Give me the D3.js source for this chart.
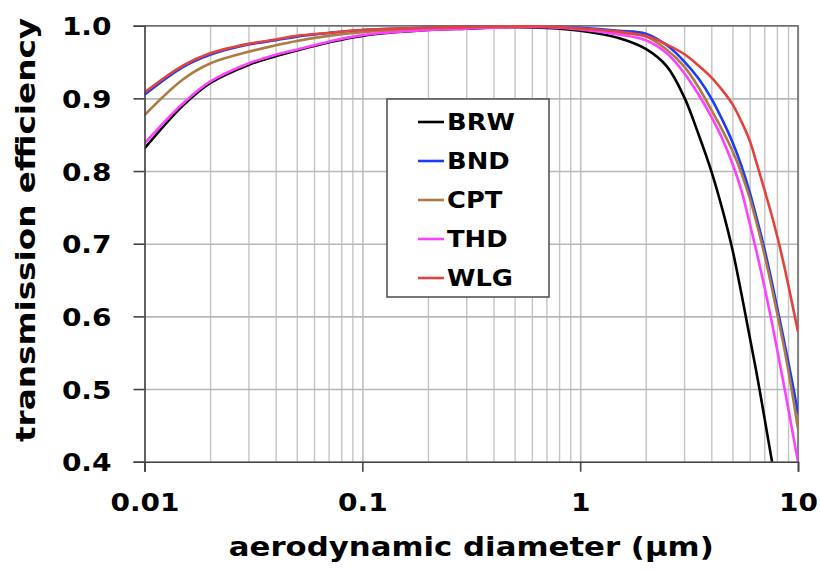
<!DOCTYPE html>
<html>
<head>
<meta charset="utf-8">
<script src="https://cdn.jsdelivr.net/npm/d3@7/dist/d3.min.js"></script>
<style>
  body { margin: 0; background: #fff; }
  text { font-family: "DejaVu Sans", Verdana, sans-serif; font-weight: bold; fill: #000; }
</style>
</head>
<body>
<div id="canvas"></div>
<script>
/* DATA */
const diameters = [0.01, 0.015, 0.02, 0.03, 0.04, 0.05, 0.07, 0.1, 0.2, 0.3, 0.5, 0.7,
                   1, 1.5, 2, 2.5, 3, 3.5, 4, 4.5, 5, 5.5, 6, 6.5, 7, 7.5, 8, 8.5, 9, 9.5, 10];

const brw = [0.831, 0.890, 0.921, 0.946, 0.958, 0.966, 0.977, 0.986, 0.994, 0.996, 0.998, 0.997,
             0.993, 0.983, 0.968, 0.944, 0.902, 0.850, 0.800, 0.747, 0.692, 0.631, 0.572, 0.517, 0.462, 0.410, 0.361,
             null, null, null, null];
const bnd = [0.905, 0.943, 0.960, 0.974, 0.980, 0.985, 0.990, 0.994, 0.997, 0.998, 0.999, 0.999,
             0.997, 0.993, 0.989, 0.973, 0.951, 0.927, 0.900, 0.870, 0.840, 0.807, 0.771, 0.732, 0.694, 0.654, 0.614,
             0.576, 0.539, 0.503, 0.466];
const cpt = [0.877, 0.926, 0.948, 0.964, 0.973, 0.979, 0.986, 0.991, 0.996, 0.998, 0.999, 0.999,
             0.996, 0.990, 0.985, 0.967, 0.944, 0.915, 0.884, 0.856, 0.828, 0.797, 0.763, 0.725, 0.686, 0.646, 0.606,
             0.567, 0.528, 0.487, 0.445];
const thd = [0.838, 0.893, 0.923, 0.948, 0.960, 0.967, 0.978, 0.987, 0.994, 0.996, 0.998, 0.998,
             0.995, 0.988, 0.980, 0.962, 0.935, 0.905, 0.875, 0.844, 0.810, 0.773, 0.728, 0.685, 0.642, 0.599, 0.556,
             0.515, 0.475, 0.436, 0.400];
const wlg = [0.908, 0.945, 0.962, 0.975, 0.981, 0.986, 0.990, 0.994, 0.997, 0.998, 0.999, 0.999,
             0.996, 0.992, 0.986, 0.974, 0.961, 0.945, 0.929, 0.911, 0.892, 0.868, 0.842, 0.808, 0.775, 0.744, 0.712,
             0.679, 0.645, 0.611, 0.579];

const stations = ["BRW", "BND", "CPT", "THD", "WLG"];
const stationValues = [brw, bnd, cpt, thd, wlg];
const stationColors = ["#000000", "#1a3cff", "#b07a45", "#ff40ff", "#e2433c"];

const xTicks = [0.01, 0.1, 1, 10];
const yTicks = [0.4, 0.5, 0.6, 0.7, 0.8, 0.9, 1.0];


/* CREATE THE SVG CANVAS */
const width = 820;
const height = 570;
const margin = { top: 25.7, right: 22, bottom: 108.3, left: 144.5 };
const stretch = 1.12;

const svg = d3.select("#canvas")
    .append("svg")
    .attr("width", width)
    .attr("height", height);

const x = d3.scaleLog()
    .domain([0.01, 10])
    .range([margin.left, width - margin.right]);

const y = d3.scaleLinear()
    .domain([0.4, 1.0])
    .range([height - margin.bottom, margin.top]);

function widen(sel, factor) {
    sel.each(function() {
        const len = this.getComputedTextLength();
        d3.select(this).attr("textLength", len * (factor || stretch)).attr("lengthAdjust", "spacingAndGlyphs");
    });
}


/* GRID LINES */
const minorX = [];
[0.01, 0.1, 1].forEach(function(dec) {
    for (let k = 1; k <= 10; k++) minorX.push(dec * k);
});

svg.append("g")
    .attr("transform", `translate(0,${height - margin.bottom})`)
    .call(d3.axisBottom(x).tickValues(minorX).tickSize(-(y.range()[0] - y.range()[1])).tickFormat(""))
    .call(g => g.select(".domain").remove())
    .selectAll("line")
    .attr("stroke", "#c4c4c4")
    .attr("stroke-width", 1.4);

svg.append("g")
    .attr("transform", `translate(${margin.left},0)`)
    .call(d3.axisLeft(y).tickValues(yTicks).tickSize(-(x.range()[1] - x.range()[0])).tickFormat(""))
    .call(g => g.select(".domain").remove())
    .selectAll("line")
    .attr("stroke", "#b8b8b8")
    .attr("stroke-width", 1.6);

// top and right frame
svg.append("path")
    .attr("d", `M${x(0.01)},${y(1)}H${x(10)}V${y(0.4)}`)
    .attr("fill", "none")
    .attr("stroke", "#6e6e6e")
    .attr("stroke-width", 1.6);


/* CURVES */
svg.append("clipPath")
    .attr("id", "plot")
    .append("rect")
    .attr("x", x(0.01))
    .attr("y", y(1.0) - 2)
    .attr("width", x(10) - x(0.01))
    .attr("height", y(0.4) - y(1.0) + 2);

const line = d3.line()
    .defined(d => d[1] !== null)
    .x(d => x(d[0]))
    .y(d => y(d[1]))
    .curve(d3.curveCatmullRom.alpha(0.5));

stations.forEach(function(name, i) {
    const pts = diameters.map((d, j) => [d, stationValues[i][j]]);
    svg.append("path")
        .datum(pts)
        .attr("clip-path", "url(#plot)")
        .attr("fill", "none")
        .attr("stroke", stationColors[i])
        .attr("stroke-width", 2.6)
        .attr("d", line);
});


/* AXES */
const xAxis = svg.append("g")
    .attr("transform", `translate(0,${y(0.4)})`)
    .call(d3.axisBottom(x).tickValues(xTicks).tickFormat(d => String(d)).tickSize(10).tickPadding(22));
xAxis.select(".domain").attr("stroke", "#444").attr("stroke-width", 1.6);
xAxis.selectAll("line").attr("stroke", "#444").attr("stroke-width", 1.6);
xAxis.selectAll("text")
    .style("font-size", "25px")
    .call(widen);

const yAxis = svg.append("g")
    .attr("transform", `translate(${x(0.01)},0)`)
    .call(d3.axisLeft(y).tickValues(yTicks).tickFormat(d3.format(".1f")).tickSize(11).tickPadding(22));
yAxis.select(".domain").attr("stroke", "#444").attr("stroke-width", 1.6);
yAxis.selectAll("line").attr("stroke", "#444").attr("stroke-width", 1.6);
yAxis.selectAll("text")
    .attr("dy", "0.36em")
    .style("font-size", "25px")
    .call(widen);

svg.append("text")
    .attr("x", (x(0.01) + x(10)) / 2)
    .attr("y", 556)
    .attr("text-anchor", "middle")
    .style("font-size", "27px")
    .text("aerodynamic diameter (\u03bcm)")
    .call(widen, 1.14);

svg.append("text")
    .attr("transform", "translate(35,230) rotate(-90)")
    .attr("text-anchor", "middle")
    .style("font-size", "27px")
    .text("transmission efficiency")
    .call(widen, 1.21);


/* LEGEND */
const legend = svg.append("g");

legend.append("rect")
    .attr("x", 387)
    .attr("y", 99)
    .attr("width", 162)
    .attr("height", 198)
    .attr("fill", "#fff")
    .attr("stroke", "#555")
    .attr("stroke-width", 1.6);

stations.forEach(function(name, i) {
    const cy = 122 + i * 39;
    legend.append("line")
        .attr("x1", 418)
        .attr("x2", 444)
        .attr("y1", cy)
        .attr("y2", cy)
        .attr("stroke", stationColors[i])
        .attr("stroke-width", 2.6);
    legend.append("text")
        .attr("x", 447)
        .attr("y", cy)
        .attr("dy", "0.36em")
        .style("font-size", "23px")
        .text(name)
        .call(widen);
});
</script>
</body>
</html>
